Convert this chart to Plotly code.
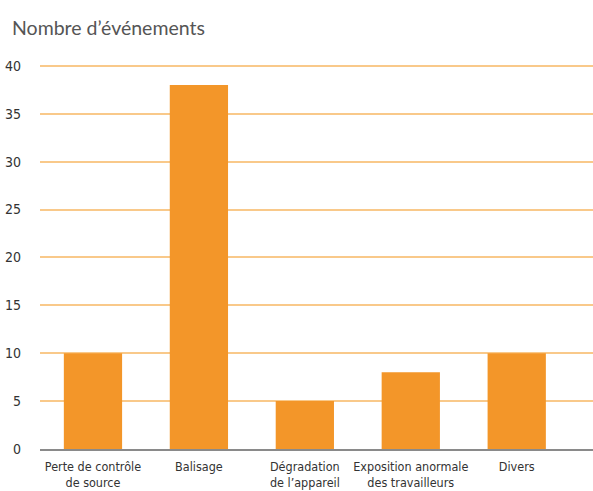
import plotly.graph_objects as go

categories = ["Perte de contrôle<br>de source", "Balisage", "Dégradation<br>de l’appareil",
              "Exposition anormale<br>des travailleurs", "Divers"]
values = [10, 38, 5, 8, 10]
y_ticks = [0, 5, 10, 15, 20, 25, 30, 35, 40]

cond = "Liberation Sans Narrow, DejaVu Sans Condensed, Roboto, sans-serif"

fig = go.Figure(go.Bar(x=list(range(len(categories))), y=values, marker_color="#F39629",
                       marker_line_width=0, width=0.55))

fig.update_layout(
    width=593, height=491,
    margin=dict(l=40, r=0, t=63, b=42),
    paper_bgcolor="white", plot_bgcolor="white",
    showlegend=False,
    font=dict(family=cond, size=13, color="#333333"),
    annotations=[dict(text="Nombre d’événements", xref="paper", yref="paper",
                      x=-30/553, y=1 + 35/386, xanchor="left", yanchor="middle",
                      showarrow=False, font=dict(family="Lato, Open Sans, sans-serif", size=19.5, color="#555555"))],
)
fig.update_xaxes(range=[-0.5, 4.72], tickvals=list(range(len(categories))), ticktext=categories,
                 showgrid=False, showline=True, linecolor="#8a8a8a", linewidth=2,
                 ticks="", zeroline=False, automargin=False, ticklabelstandoff=5,
                 tickfont=dict(size=12.5, color="#333333"))
fig.update_yaxes(range=[0, 40.3], tickvals=y_ticks, showgrid=True, gridcolor="#F9C98A", gridwidth=1.5,
                 zeroline=False, showline=False, ticks="", ticklabelstandoff=18, automargin=False,
                 tickfont=dict(size=14, color="#333333"))

fig.write_html("out.html", config={"displayModeBar": False},
               post_script="document.body.style.margin='0';document.body.style.overflow='hidden';")
